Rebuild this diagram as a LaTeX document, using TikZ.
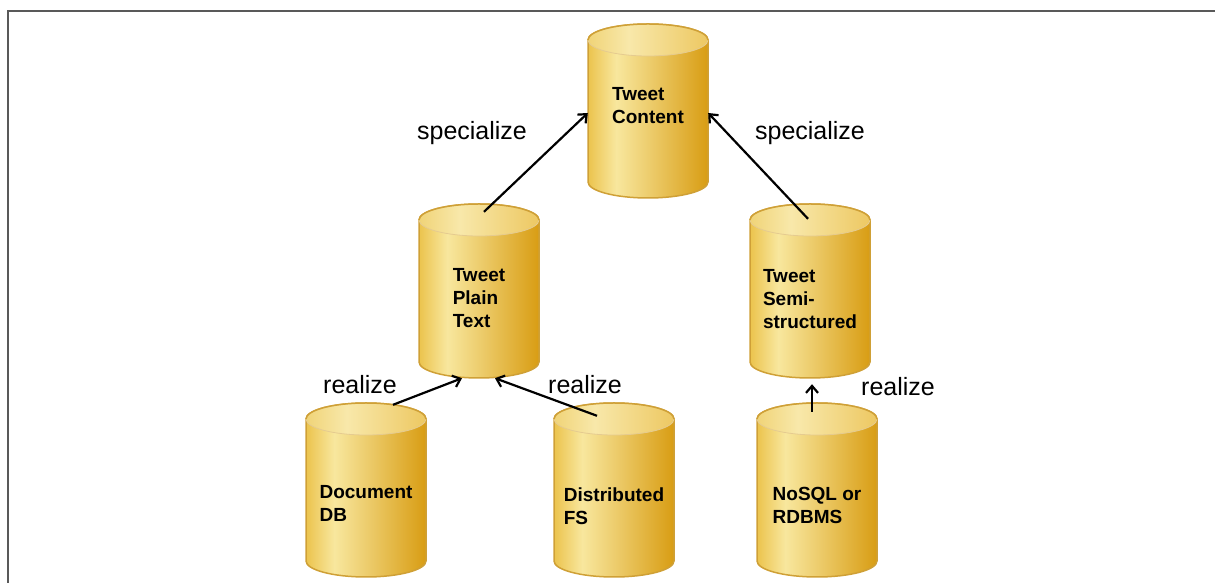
\documentclass[tikz,border=0pt]{standalone}
\usepackage{fontspec}
\setmainfont{Liberation Sans}
\usepackage{xcolor}
\usepackage{tikz}
\usetikzlibrary{arrows.meta, positioning}

\definecolor{cylleft}{HTML}{EBC24A}
\definecolor{cyllight}{HTML}{F8E79E}
\definecolor{cylright}{HTML}{D89C12}
\definecolor{topleft}{HTML}{F0D478}
\definecolor{toplight}{HTML}{F8E8AA}
\definecolor{topright}{HTML}{EDC862}
\definecolor{cylline}{HTML}{CFA036}
\definecolor{framegray}{HTML}{595959}

\pgfdeclarehorizontalshading{cylbody}{100bp}{color(0bp)=(cylleft); color(25bp)=(cylleft); color(37bp)=(cyllight); color(75bp)=(cylright); color(100bp)=(cylright)}
\pgfdeclarehorizontalshading{cyltop}{100bp}{color(0bp)=(topleft); color(25bp)=(topleft); color(42bp)=(toplight); color(75bp)=(topright); color(100bp)=(topright)}

\begin{document}
\begin{tikzpicture}[
        on grid,
        store/.style={rectangle, inner sep=0pt, minimum width=122pt, minimum height=176pt,
            text height=#1, text depth=0pt, align=left, font=\bfseries\fontsize{19}{23}\selectfont,
            path picture={
                \shade[shading=cylbody, draw=cylline, line width=1.5pt]
                    ([xshift=1pt, yshift=-17pt]path picture bounding box.north west)
                    -- ([xshift=1pt, yshift=17pt]path picture bounding box.south west)
                    arc[start angle=180, end angle=360, x radius=60pt, y radius=16pt]
                    -- ([xshift=-1pt, yshift=-17pt]path picture bounding box.north east)
                    arc[start angle=0, end angle=180, x radius=60pt, y radius=16pt] -- cycle;
                \shade[shading=cyltop, draw=cylline!55, line width=0.8pt]
                    ([yshift=-17pt]path picture bounding box.north) ellipse (60pt and 16pt);
                \draw[cylline, line width=1.5pt]
                    ([xshift=1pt, yshift=-17pt]path picture bounding box.north west)
                    arc[start angle=180, end angle=0, x radius=60pt, y radius=16pt];
            }},
        lbl/.style={font=\fontsize{25}{30}\selectfont},
        arrow/.style={-{Straight Barb[length=7pt, width=12pt]}, line width=2.2pt}
    ]
        \useasboundingbox (0,0) rectangle (1215pt,583pt);
        \draw[framegray, line width=2.5pt] (1215pt,572pt) -- (8pt,572pt) -- (8pt,0pt);

        \node[store=24.6pt] (content) at (648pt,472pt) {Tweet\\Content};
        \node[store=72.6pt, below left=180pt and 169pt of content] (plain) {Tweet\\Plain\\Text};
        \node[store=75.6pt, below right=180pt and 162pt of content] (semi) {Tweet\\Semi-\\structured};
        \node[store=62.6pt, below left=199pt and 113pt of plain] (docdb) {Document\\DB};
        \node[store=68.6pt, below right=199pt and 135pt of plain] (distfs) {Distributed\\FS};
        \node[store=66.6pt, below right=199pt and 7pt of semi] (nosql) {NoSQL or\\RDBMS};

        \node[lbl] (specleft) at (472pt,450pt) {specialize};
        \node[lbl] (specright) at (810pt,450pt) {specialize};
        \node[lbl] (realleft) at (360pt,198pt) {realize};
        \node[lbl] (realmid) at (585pt,198pt) {realize};
        \node[lbl] (realright) at (898pt,196pt) {realize};

        \draw[arrow] ([xshift=5pt, yshift=-9pt]plain.north) -- ([xshift=1pt, yshift=-2pt]content.west);
        \draw[arrow] ([xshift=-2pt, yshift=-16pt]semi.north) -- ([xshift=-1pt, yshift=-2pt]content.east);
        \draw[arrow] ([xshift=27pt, yshift=-3pt]docdb.north) -- ([xshift=-17pt, yshift=1pt]plain.south);
        \draw[arrow] ([xshift=-17pt, yshift=-14pt]distfs.north) -- ([xshift=16pt, yshift=1pt]plain.south);
        \draw[arrow] ([xshift=-5pt, yshift=-10pt]nosql.north) -- ([xshift=2pt, yshift=-5pt]semi.south);
    \end{tikzpicture}
\end{document}
